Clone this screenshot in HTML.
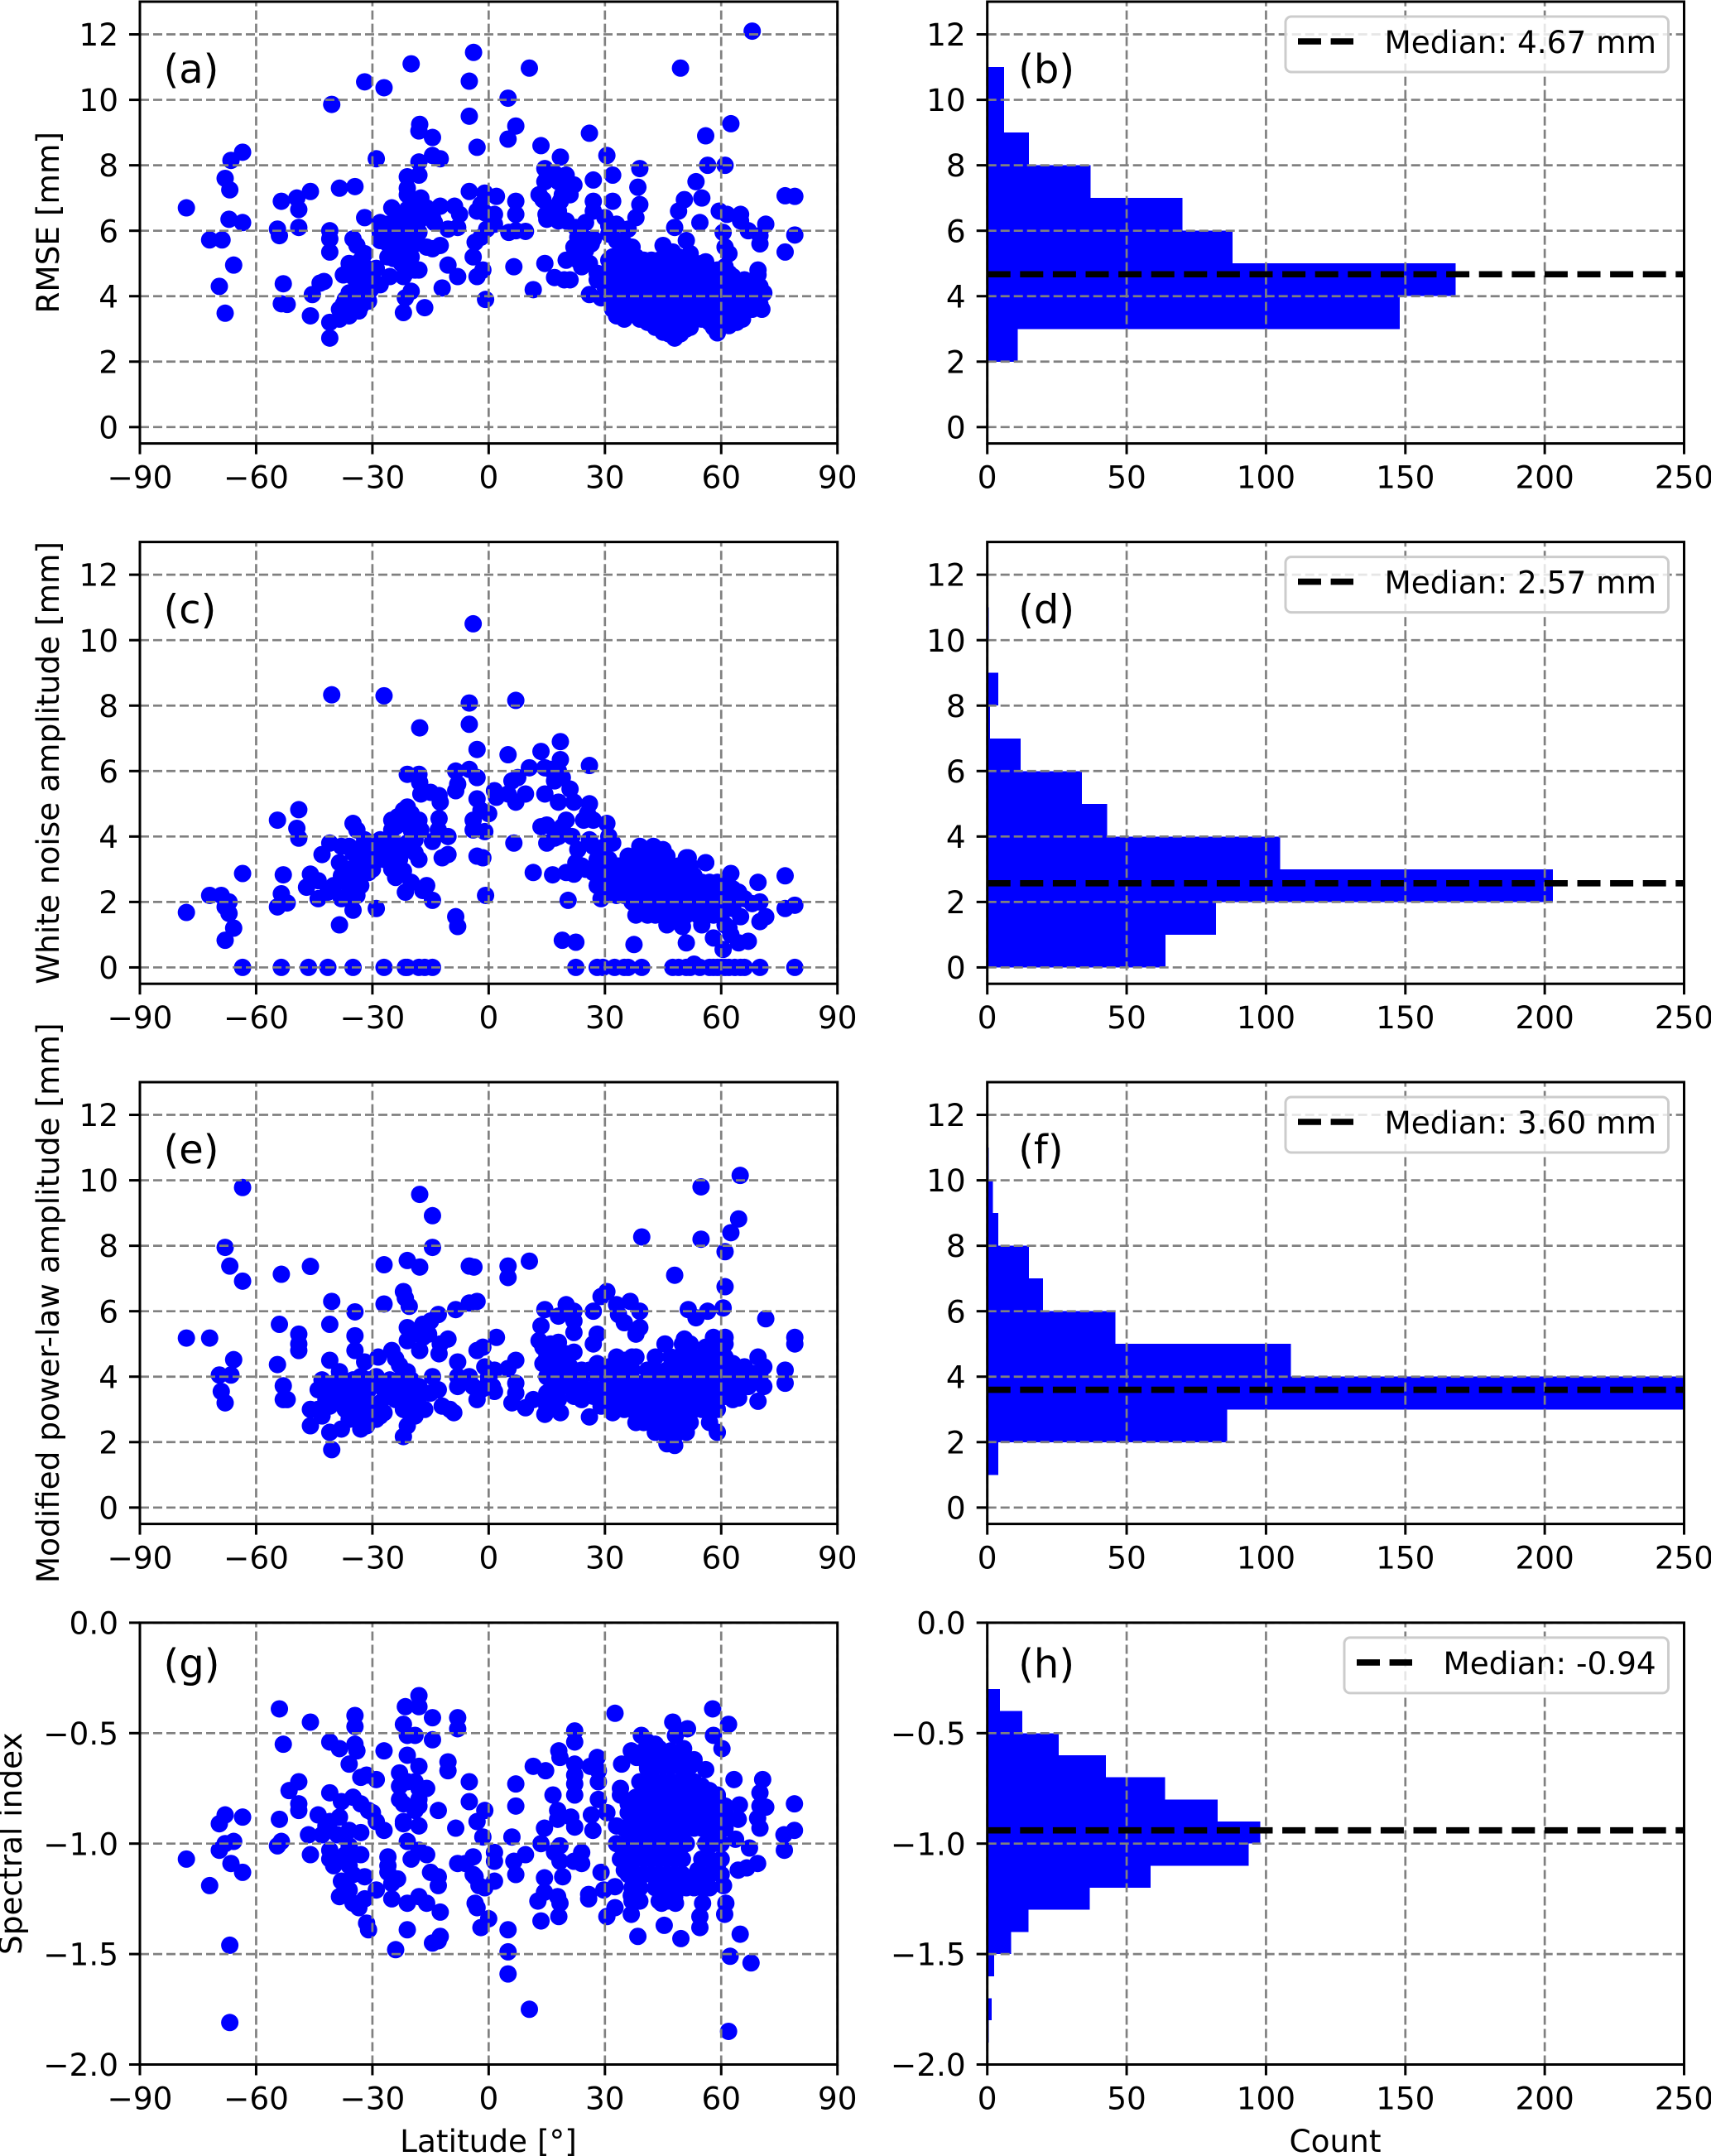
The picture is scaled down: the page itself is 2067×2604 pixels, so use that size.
<!DOCTYPE html>
<html>
<head>
<meta charset="utf-8">
<title>Latitude dependence of noise parameters</title>
<style>
html,body{margin:0;padding:0;background:#fff;}
svg{display:block;font-family:"DejaVu Sans","Liberation Sans",sans-serif;}
</style>
</head>
<body>
<svg id="figure" xmlns="http://www.w3.org/2000/svg" width="2067" height="2604" viewBox="0 0 2067 2604"></svg>
<script>
// ---- tick labels ----
const latTicks = [-90,-60,-30,0,30,60,90];
const countTicks = [0,50,100,150,200,250];
const amplitudeTicks = [0,2,4,6,8,10,12];
const indexTicks = [0,-0.5,-1,-1.5,-2];

// ---- panel (a) RMSE vs latitude ----
const latA = [
-78,-72,-68.8,-67,-63.5,-65.8,-69.5,-68,-66.5,-68,-66.8,-63.5,
-54.5,-54,-53,-53.5,-52,-53.5,-49,-49.5,-49,-46,-46,-45.5,-43.5,-42.5,
-41,-41,-41,-41,-41,-40.5,-38.5,-38.5,-34.5,-38.5,-37.5,-37,-36,-35,-35,
-34,-34,-34,-33,-33,-33,-32,-32,-32,-31,-31,-31.5,-36,-35,-29,-28,-37.5,-33,-30.5,-35.5,-33.5,
-32,-27,-29,-20,-3.9,-5,-5,-17.8,-18,-14.5,-14.5,-12.5,-18,-18,-21,-21,-21,
-17.5,-16,-14.5,-12.5,-14,-10.5,-8.8,-8,-7.5,-25,-21,-19.5,
-28,-26,-28,-25.5,-28,-24,-23,-21.5,-20,-20,-22,-19,-18,-16,-14.5,-12.5,-21,-20,-26,-24.5,-22.5,-21,-19,-18,-25.5,-22,-21.5,-20,-22,-16.5,-12,-10.5,-8,
-24,-23,-25,-22,-20,-24.5,-21.5,
-3,-2,-1,1.5,1.5,-0.5,-3.5,-2,-4,-1.5,-3,-0.8,5.2,7,9.5,7,6.5,11.5,-5,-1,2,7,-3,5,10.5,7,5,
14.5,13,14,14.5,15,16,17,18,20,21,22,21,19,14.8,15,17,18,18,20,16,18.5,17,19.5,21,20,22,22,23,22.5,24,25,27,27,26,29,27,25,26,28,28,26.5,23,24,13.5,14.5,18.5,
26,30.5,27,32,39,38.5,39,38,32,30,31,33,36,31,33,35,37,38,
32,34,36,38,40,42,44,46,49,52,
33,37,41,45,47,50,55,
31,33,35,37,39,41,43,45,47,49,51,53,55,57,59,61,63,
33,37,41,45,49,53,57,61,
30,32,34,36,38,40,42,44,46,48,50,52,54,56,58,60,62,64,66,
33,37,41,45,49,53,57,61,65,
31,33,35,37,39,41,43,45,47,49,51,53,55,57,59,61,63,65,67,69,
35,39,43,47,51,55,59,63,
32,34,36,38,40,42,44,46,48,50,52,54,56,58,60,62,64,66,
35,43,47,51,55,
33,37,39,41,43,45,47,49,51,53,55,57,59,61,63,
43,44.5,46,47,48,49,50,51,52,58,
45,46.5,48,49.5,
45,47.5,51,52,56,48,49,54.5,60.5,59.5,61.5,61,62,65,67,65,71.5,70,70,76.5,69.5,69.5,79,
71,70,70.5,68,66,64,62,61,65.5,59,57,60,63,65,
68,49.5,62.5,56,53.5,56.5,61,76.5,79,55,50.5,
62,64,66,68,63,65,67,69,62,64,
66,68,70,67,31,30,33,35,29,31,
-36,-34,-31,-30,-28,-26,-24,-22,-20,-18];
const rmse = [
6.7,5.72,5.72,6.35,6.25,4.95,4.3,3.48,8.15,7.6,7.25,8.4,
6.05,5.85,4.38,3.77,3.75,6.9,6.1,7.0,6.65,7.2,3.4,4.05,4.4,4.45,
6.0,5.75,5.35,3.2,2.72,9.86,3.3,3.6,7.35,7.3,4.65,3.9,4.1,4.6,5.75,
5.55,5.0,3.9,4.6,4.2,3.7,5.3,4.9,6.4,4.5,3.85,4.0,3.4,3.6,4.85,4.35,3.75,5.1,4.2,3.95,3.55,
10.55,10.37,8.2,11.1,11.45,10.57,9.5,9.25,9.05,8.85,8.3,8.2,8.1,7.7,7.65,7.3,7.1,
7.0,6.7,6.4,6.75,6.25,6.05,6.75,6.1,6.5,6.7,6.65,6.9,
6.25,6.2,5.95,5.95,5.8,5.9,5.7,6.2,6.2,5.9,5.8,5.6,5.95,5.5,5.45,5.55,5.4,5.2,5.2,5.15,5.0,4.85,4.8,4.8,4.6,4.6,3.95,4.15,3.5,3.65,4.25,4.95,4.6,
6.1,6.4,5.6,5.3,5.6,5.5,4.7,
6.6,6.8,6.55,6.5,6.2,6.05,5.65,5.8,5.2,4.8,4.6,3.9,5.95,6.0,5.98,6.5,4.9,4.2,7.2,7.15,7.05,6.9,8.55,10.05,10.97,9.2,8.8,
5.0,7.1,6.95,7.5,7.6,7.7,7.75,7.5,7.7,7.4,7.4,7.1,7.1,6.5,6.35,6.7,6.6,6.3,6.3,6.45,6.9,4.57,4.5,4.5,5.1,5.2,5.5,5.8,6.1,5.85,6.25,6.6,6.9,4.05,3.95,5.75,5.4,5.0,4.7,4.5,5.6,5.1,4.9,8.6,7.9,8.25,
8.98,8.3,7.55,7.7,7.9,7.33,6.8,6.4,6.9,6.4,6.15,6.2,6.05,5.9,5.7,5.6,5.5,5.2,
5.2,5.2,5.15,5.2,5.1,5.1,5.1,5.15,5.2,5.2,
5.0,5.0,5.0,5.0,5.0,5.0,5.0,
4.8,4.8,4.8,4.8,4.8,4.8,4.8,4.8,4.8,4.8,4.8,4.8,4.8,4.8,4.8,4.8,4.6,
4.6,4.6,4.6,4.6,4.6,4.6,4.6,4.6,
4.4,4.4,4.4,4.4,4.4,4.4,4.4,4.4,4.4,4.4,4.4,4.4,4.4,4.4,4.4,4.4,4.4,4.4,4.3,
4.2,4.2,4.2,4.2,4.2,4.2,4.2,4.2,4.2,
4.0,4.0,4.0,4.0,4.0,4.0,4.0,4.0,4.0,4.0,4.0,4.0,4.0,4.0,4.0,4.0,4.0,4.0,4.1,4.1,
3.8,3.8,3.8,3.8,3.8,3.8,3.8,3.8,
3.6,3.6,3.6,3.6,3.6,3.6,3.6,3.6,3.6,3.6,3.6,3.6,3.6,3.6,3.6,3.6,3.6,3.6,
3.45,3.45,3.45,3.45,3.45,
3.4,3.45,3.3,3.2,3.3,3.15,3.25,3.3,3.3,3.3,3.3,3.3,3.2,3.3,3.4,
3.05,3.0,2.95,3.0,2.85,2.95,3.0,3.0,3.05,3.05,
2.9,2.85,2.72,2.85,
5.55,5.35,5.7,5.3,5.05,6.1,6.6,6.25,5.95,6.6,6.5,5.5,5.3,6.5,6.0,6.3,6.2,5.85,5.6,5.35,4.8,4.65,5.87,
4.1,3.75,3.6,4.2,4.1,4.4,4.7,4.9,3.3,2.88,3.2,3.3,3.5,3.9,
12.1,10.97,9.27,8.9,7.5,8.0,8.0,7.07,7.05,7.0,6.95,
4.4,4.3,4.5,4.1,3.9,3.6,3.7,3.8,3.1,3.2,
3.6,3.6,4.3,3.9,4.7,4.3,3.6,3.3,4.6,5.1,
5.0,4.4,4.2,4.7,5.7,5.6,6.3,6.5,6.6,6.3];

// ---- panel (b) RMSE histogram ----
const rmseBinEdges = [2,3,4,5,6,7,8,9,10,11];
const rmseCounts = [11,148,168,88,70,37,15,6,6];
const rmseMedian = 4.67;

// ---- panel (c) white noise vs latitude ----
const latC = [
-63.5,-53.5,-46.5,-41.5,-35,-27,-21.5,-21,-18,-16.5,-14.5,22.5,28,29.5,32.5,35,36,39.5,47.5,49,51,52,53,54.5,57,58,59,60,61,62,63.5,65,66,70,79,
-4,-40.5,-27,-5,7,-5,-17.8,18.5,-3,13.5,5,26,18.5,
-8.5,-5,-3,10.5,14.5,16,18,7.5,6,17,19,-8,-8.5,1.5,2,5,7,9.5,14.5,18,21,22,26,-3,-2,0,25.5,24.5,27,-4,-4,-1,20,19,13.5,15,18,6.5,15,17,21.5,30.5,31,32,
-3,-1.5,11.5,16.5,20,22,-0.8,20.5,19,22.5,37.5,
-49,-54.5,-49.5,-49,-41,-43,-46,-44,-47,-44,-53,-53.5,-54.5,-52,-78,-72,-69,-67,-68,-67,-65.8,-68,-63.5,
-41.5,-38.5,-37,-38,-35,-34,-32,-35,-33,-36,-33,-37,-30,-31,-35,-36,-34,-35,-29,-38.5,
-28,-26,-24.5,-27,-25,-24,-22,-21.5,-20,-17,-16,-14.5,-8.5,-8,
-25,-23.5,-21,-22,-25,-20,-18,-17.5,-21,-22,-20,-18,-19,-21,-18,-17.8,-17.5,-15,-12.8,-12.5,-12.8,-13,-10.5,-14.5,-12,-10.5,
23,22.5,24,26,27,28,25,27,28,29,30,31,30,32,33,34,35,
39,42.5,45,
36,38,40,42,44,46,51,
33,35,37,39,41,43,45,47,49,52,56,
32,34,36,38,40,42,44,46,48,50,52,
33,35,37,39,41,43,45,47,49,51,53,55,
36,38,40,42,44,46,48,50,52,54,56,58,60,
38,40,42,44,46,48,50,52,54,56,58,60,62,
41,43,45,47,49,51,54,56,58,60,
46,50,55,61,62,
62.5,69.5,76.5,64.5,66,68,70,65,71.5,70,76.5,79,58,62,60.5,64.5,67,51,62.5,56,51.5,58,61,63,
-40,-38,-36,-34,-32,-30,-38,-36,-33,-31,
-28,-26,-24,-22,-20,-19,-23,-25,29,31,
33,35,37,34,36,38,55,57,59,61,
63,53];
const whiteNoise = [
0,0,0,0,0,0,0,0,0,0,0,0,0,0,0,0,0,0,0,0,0,0,0.1,0,0,0,0,0,0,0,0,0,0,0,0,
10.5,8.33,8.3,8.08,8.16,7.43,7.32,6.9,6.66,6.6,6.5,6.17,6.35,
6.0,6.05,5.8,6.1,6.1,6.05,6.0,5.8,5.7,5.7,5.8,5.6,5.4,5.4,5.2,5.3,5.05,5.3,5.3,5.05,5.45,5.05,5.0,5.15,4.8,4.7,4.7,4.5,4.5,4.5,4.2,4.15,4.5,4.3,4.3,4.35,4.0,3.8,3.8,3.95,4.0,4.4,4.0,3.8,
3.4,3.35,2.9,2.83,2.9,2.85,2.2,2.05,0.83,0.77,0.7,
4.82,4.5,4.25,3.95,3.8,3.45,2.85,2.65,2.45,2.1,2.83,2.25,1.85,1.97,1.68,2.2,2.2,2.0,1.85,1.65,1.2,0.83,2.87,
2.3,3.2,2.6,2.1,4.4,4.2,3.9,3.5,3.3,3.0,2.9,2.8,3.0,3.5,2.5,2.2,2.2,1.75,1.8,1.3,
3.7,3.8,3.8,3.3,3.0,2.75,2.95,2.3,2.6,2.35,2.5,2.05,1.55,1.25,
4.5,4.6,4.9,4.4,4.2,4.2,4.5,4.2,3.8,3.6,3.6,3.3,3.5,5.9,5.9,5.65,5.3,5.35,5.25,5.05,4.55,4.2,4.0,3.85,3.35,3.45,
3.6,3.2,3.1,3.9,3.7,3.3,3.0,2.9,2.5,2.1,3.7,3.3,2.8,3.0,2.6,3.1,2.5,
3.7,3.7,3.6,
3.4,3.4,3.4,3.4,3.4,3.4,3.35,
3.1,3.1,3.1,3.1,3.1,3.1,3.1,3.1,3.1,3.1,3.2,
2.8,2.8,2.8,2.8,2.8,2.8,2.8,2.8,2.8,2.8,2.8,
2.5,2.5,2.5,2.5,2.5,2.5,2.5,2.5,2.5,2.5,2.5,2.5,
2.2,2.2,2.2,2.2,2.2,2.2,2.2,2.2,2.2,2.2,2.2,2.2,2.2,
1.9,1.9,1.9,1.9,1.9,1.9,1.9,1.9,1.9,1.9,1.9,1.9,1.9,
1.6,1.6,1.6,1.6,1.6,1.6,1.6,1.6,1.6,1.6,
1.3,1.25,1.3,1.3,1.2,
2.87,2.6,2.8,2.3,2.1,1.95,2.0,1.55,1.55,1.4,1.8,1.9,0.9,1.2,0.55,0.75,0.8,0.75,1.0,3.2,3.35,2.4,2.5,1.8,
2.5,2.8,2.6,3.6,3.5,3.3,3.7,3.7,2.5,2.9,
3.9,3.4,4.3,4.8,4.7,3.9,3.3,3.5,3.2,2.4,
2.2,2.2,2,2.9,2.3,1.6,2.6,2.6,2.6,2.2,
2.4,2.8];

// ---- panel (d) white noise histogram ----
const whiteBinEdges = [0,1,2,3,4,5,6,7,8,9,10,11];
const whiteCounts = [64,82,203,105,43,34,12,1,4,0,0.5];
const whiteMedian = 2.57;

// ---- panel (e) modified power-law vs latitude ----
const latE = [
-78,-72,-63.5,-68,-66.8,-63.5,-65.8,-69.5,-66.5,-69,-68,
-53.5,-46,-54,-49,-49,-49,-54.5,-53,-53,-52,-46,-46,
-40.5,-41,-41,-34.5,-34.5,-34.5,-32,-17.8,-14.5,-14.5,-21,-27,-17.8,-27,-22,-21.5,-20.5,
-13,-15,-17,-18,-21,-21,-17,-15.5,-10.5,-12.5,-12.8,-17.8,-8.5,-5,-3,-28.5,-25,-24,-23,-21,-8,-14.5,
-5,-3.8,5,5,10.5,
-44,-42,-41,-41,-44,-43,-41,-40.5,-38.5,-37.5,-38,-36,-37,-35,-34,-33,-33,-33,-33,-31,-30,-29,-29,-31.5,-35,-28,
-27,-25.5,-24,-23,-22,-21,-20,-19,-22,-20.5,-21,-22,-20,-18,-16.5,-15,-13,-12,-10,-9,-8,-8,-5,-4,-3,-2,-1,-3,-1.5,0,1,1.5,1.5,2,0,5,7,7,7,6,9.5,11.5,
13,13.5,14.5,14,15,16,18,18,20,22,22,22,22,14.5,18.5,15,17,18,15,17,19,20,21,23,22,24,26,26,27,27,28,29,30.5,
28,27,29,31,33,35,37,38,
33,33.5,35,36.5,38,39,39,39.5,48,
45.5,50,52,58,60,
43,47,49,51,53,55,57,59,61,
35,41,43,46,48,50,52,54,56,58,60,62,64,
34,36,38,40,42,44,46,48,50,52,54,56,58,60,62,
33,35,37,39,41,43,45,47,49,51,53,55,57,59,61,
33,35,37,39,41,43,45,47,49,51,53,55,57,59,
38,40,42,44,46,48,50,52,57,
43,45,47,49,51,59,
46,48,
64.9,54.8,64.5,62.5,54.8,61,61,60.5,51.5,53.5,56.5,50.5,71.5,79,79,76.5,76.5,69.5,71,70,68,71,69.5,66,64.5,65,63,61,61,
-43,-42,-40,-39,-37,-36,-35,-34,-32,-31,
-30,-28,-27,-26,-24,-23,-22,-20,-19,-18,
-17,-36,-32,-28,-25,-21,-19,
14,16,17,19,20,21,23,24,25,26,
28,29,30,31,32,15,19,24,30,33,
32,34,36,37,56,58,60,62,63,64,
66,67,31,30];
const powerLaw = [
5.18,5.18,9.78,7.95,7.38,6.92,4.52,4.05,4.05,3.55,3.2,
7.13,7.37,5.6,5.3,5.0,4.8,4.37,3.72,3.3,3.3,3.0,2.5,
6.3,5.6,4.5,5.98,5.25,4.8,4.45,9.57,8.92,7.95,7.55,7.42,7.35,6.22,6.6,6.4,6.15,
5.9,5.7,5.6,5.4,5.5,5.1,5.2,5.3,5.15,5.0,4.7,4.8,6.05,6.25,6.3,4.6,4.8,4.55,4.35,4.15,4.45,4.0,
7.38,7.35,7.38,7.03,7.53,
3.6,3.3,3.6,3.1,3.0,2.8,2.3,1.77,4.15,3.9,2.4,3.3,3.0,2.8,3.9,4.0,3.3,2.7,2.4,3.6,3.1,4.0,2.7,2.5,3.5,3.2,
3.6,3.9,3.7,3.9,3.4,3.8,3.5,3.7,3.0,2.9,2.5,2.17,3.3,3.4,3.0,3.5,3.6,3.1,3.0,2.9,3.7,4.0,4.0,3.7,3.3,3.6,4.3,4.8,4.9,4.0,3.7,4.2,3.55,5.2,3.9,4.25,4.5,3.8,3.5,3.2,3.05,3.3,
5.1,5.55,6.05,4.9,4.6,5.0,5.05,5.85,6.2,6.0,5.7,5.35,4.75,2.85,2.9,3.5,3.7,3.3,4.0,4.2,4.5,4.1,4.3,4.1,3.4,3.3,4.2,2.77,6.0,5.0,5.3,6.45,6.6,
3.8,3.4,3.1,4.3,4.6,4.5,4.6,4.6,
6.2,5.9,5.65,6.3,5.3,5.5,6.0,8.27,7.1,
5.0,5.0,5.0,5.0,5.1,
4.6,4.6,4.6,4.6,4.6,4.6,4.6,4.6,4.6,
4.2,4.2,4.2,4.2,4.2,4.2,4.2,4.2,4.2,4.2,4.2,4.2,4.2,
3.8,3.8,3.8,3.8,3.8,3.8,3.8,3.8,3.8,3.8,3.8,3.8,3.8,3.8,3.8,
3.4,3.4,3.4,3.4,3.4,3.4,3.4,3.4,3.4,3.4,3.4,3.4,3.4,3.4,3.4,
3.0,3.0,3.0,3.0,3.0,3.0,3.0,3.0,3.0,3.0,3.0,3.0,3.0,3.0,
2.6,2.6,2.6,2.6,2.6,2.6,2.6,2.6,2.6,
2.3,2.3,2.3,2.3,2.3,2.3,
1.95,1.9,
10.15,9.8,8.82,8.4,8.2,7.82,6.75,6.1,6.05,5.8,6.0,5.15,5.77,5.2,5.0,4.2,3.8,4.6,4.3,4.0,4.1,3.7,3.25,3.9,3.35,3.7,4.4,5.2,5.0,
3.9,3.5,3.8,3.3,3.5,2.7,3.9,3.2,3,3.9,
2.7,3.8,2.9,3.4,3.3,3.4,4,3.9,3.1,3.7,
3.5,3.7,3.3,2.8,3.4,3.3,2.8,
4.4,3.9,4.7,3.7,4.7,3.7,3.7,4,3.6,3.5,
4.4,3.9,3.6,3.2,3.6,3.1,4.1,4.2,4.2,4.2,
2.9,4.5,4.3,4.2,4.9,5.2,4.4,3.8,3.3,4.2,
4.3,3.7,4,3.5];

// ---- panel (f) modified power-law histogram ----
const powerBinEdges = [1,2,3,4,5,6,7,8,9,10,11];
const powerCounts = [4,86,262,109,46,20,15,4,2,0.5];
const powerMedian = 3.60;

// ---- panel (g) spectral index vs latitude ----
const latG = [
-78,-72,-66.8,-66.8,-68,-69.5,-63.5,-68,-65.8,-69.5,-66.5,-63.5,
-54,-46,-53,-49,-51.5,-49,-49,-54,-53.5,-54.5,-46,-46.5,
-41,-41,-38.5,-36,-34.5,-34.5,-34.5,-34,-33,-31.5,-29,-27,
-44,-42,-41,-38.5,-38,-35,-33,-31,-30,-29,-27,-43,-39,-36,-33,
-41,-41,-40,-37,-36,-33,-36,-35,-32,-38,-37,-36,-38.5,-35,-33.5,-32,-31.5,-31,
-26,-26,-26,-29,-25,-23.5,-25,-21,-24,-21,
-22,-21.5,-18,-18,-21,-19,-14.5,-14.5,-21,-18,-23,-23,-21,-19,-18,-16,-23,-22,-18,-18,-19,-22,-22,-18,-21,-18,-16,-20,
-15,-13,-13,-18,-16,-12.5,-14.5,-12.5,-13,
-13,-10.5,-10.5,-8,-8,-5,-5,-8.5,-8,-6,-4,-4,-3,-1,-1.5,
-3.5,-2.5,-1,1.5,1.5,1.5,-3.5,-3,-2,0,
5,5,5,10.5,6,7,7,6.5,7,9.5,
11.5,14.7,13.5,14.4,12.7,14.4,14.4,13.5,
16.6,17.8,18.1,18.4,17.8,21.2,18.4,17,18.4,19.1,17.8,18.4,18.1,
22.2,22.2,22.2,22.2,22.2,22.2,22.2,22,24,24,
26.2,28,28.3,28.3,28.3,30.5,26.5,26.9,25.8,25.8,29,30.5,29.7,32.6,32.6,36.8,38.5,34.3,34,36.8,32.6,
39.4,41,36.8,38.2,47.5,48.2,51.3,50.3,49.6,53,56,57.8,58,60.2,61.9,
41,43,45,47,49.5,52,
39,41,43,45,47,49,51,53,
38,40,42,44,46,48,50,52,54,57,59,
36,38,40,42,44,46,48,50,52,54,56,58,60,
35,37,39,41,43,45,47,49,51,53,55,57,59,61,
33,35,37,39,41,43,45,47,49,51,56,58,60,
34,36,38,40,42,44,46,48,50,55,57,60,
36,38,40,42,44,46,48,50,57,60,
37,39,43,45,47,49,51,53,55,
55.2,54.5,54.5,44.6,48.2,45.3,49.6,60.6,61.2,60.9,64.9,62.3,67.7,61.9,
63.3,64.7,70.7,70,70,71.5,69.4,70,78.9,78.9,76.2,76.3,63.7,67.3,69.4,66.6,64.4,61.6,64.4,
40,42,44,46,48,50,43,45,47,51,
41,53,55,57,59,61,56,58,34,33,
35,37,39,36,55,57,59,52,54,46,
44,48];
const spectralIndex = [
-1.07,-1.19,-1.81,-1.46,-0.87,-0.91,-0.88,-1,-0.99,-1.03,-1.09,-1.13,
-0.39,-0.45,-0.55,-0.72,-0.76,-0.82,-0.85,-0.89,-0.99,-1.01,-1.05,-0.96,
-0.77,-0.54,-0.57,-0.64,-0.42,-0.47,-0.55,-0.58,-0.7,-0.69,-0.71,-0.58,
-0.87,-0.92,-0.9,-0.88,-0.81,-0.79,-0.82,-0.85,-0.86,-0.9,-0.94,-0.96,-0.96,-0.94,-0.95,
-1.03,-1.07,-1.1,-1.05,-1.01,-1.05,-1.1,-1.14,-1.15,-1.17,-1.21,-1.21,-1.24,-1.27,-1.29,-1.25,-1.36,-1.39,
-1.06,-1.1,-1.13,-1.21,-1.18,-1.16,-1.25,-1.27,-1.48,-1.39,
-0.46,-0.38,-0.33,-0.38,-0.51,-0.51,-0.43,-0.53,-0.6,-0.65,-0.68,-0.74,-0.72,-0.72,-0.75,-0.75,-0.8,-0.82,-0.8,-0.83,-0.85,-0.9,-0.91,-0.92,-0.99,-1.03,-1.05,-1.07,
-1.13,-1.15,-1.19,-1.24,-1.27,-1.31,-1.45,-1.42,-1.44,
-0.85,-0.63,-0.67,-0.43,-0.48,-0.72,-0.81,-0.93,-1.09,-1.09,-1.06,-1.14,-0.9,-0.85,-0.97,
-1.15,-1.19,-1.2,-1.17,-1.04,-1.08,-1.27,-1.29,-1.38,-1.34,
-1.39,-1.49,-1.59,-1.75,-0.97,-0.73,-0.83,-1.08,-1.14,-1.05,
-0.65,-0.67,-1,-0.93,-1.26,-1.22,-1.155,-1.35,
-0.78,-0.85,-0.58,-0.61,-0.89,-0.88,-1.01,-1.04,-1.08,-1.15,-1.24,-1.27,-1.33,
-0.49,-0.54,-0.64,-0.69,-0.73,-0.78,-0.925,-1.08,-1.09,-1.04,
-0.65,-0.61,-0.67,-0.72,-0.8,-0.86,-0.87,-0.94,-1.23,-1.25,-1.13,-1.33,-1.21,-0.41,-1.29,-1.32,-1.42,-0.64,-0.75,-1.235,-1.195,
-0.51,-0.54,-0.58,-0.61,-0.45,-0.51,-0.48,-0.57,-0.6,-0.62,-0.665,-0.39,-0.51,-0.57,-0.46,
-0.65,-0.65,-0.65,-0.65,-0.65,-0.65,
-0.72,-0.72,-0.72,-0.72,-0.72,-0.72,-0.72,-0.72,
-0.79,-0.79,-0.79,-0.79,-0.79,-0.79,-0.79,-0.79,-0.79,-0.79,-0.79,
-0.86,-0.86,-0.86,-0.86,-0.86,-0.86,-0.86,-0.86,-0.86,-0.86,-0.86,-0.86,-0.86,
-0.93,-0.93,-0.93,-0.93,-0.93,-0.93,-0.93,-0.93,-0.93,-0.93,-0.93,-0.93,-0.93,-0.93,
-1,-1,-1,-1,-1,-1,-1,-1,-1,-1,-1,-1,-1,
-1.07,-1.07,-1.07,-1.07,-1.07,-1.07,-1.07,-1.07,-1.07,-1.07,-1.07,-1.07,
-1.14,-1.14,-1.14,-1.14,-1.14,-1.14,-1.14,-1.14,-1.14,-1.14,
-1.2,-1.2,-1.2,-1.2,-1.2,-1.2,-1.2,-1.2,-1.2,
-1.27,-1.33,-1.38,-1.27,-1.27,-1.37,-1.43,-1.19,-1.27,-1.32,-1.41,-1.51,-1.54,-1.85,
-0.71,-0.825,-0.71,-0.77,-0.83,-0.835,-0.885,-0.93,-0.82,-0.94,-0.96,-1.03,-0.98,-1.02,-1.09,-1.11,-1.12,-0.88,-0.89,
-0.58,-0.6,-0.57,-0.62,-0.6,-0.62,-0.55,-0.6,-0.58,-0.66,
-0.66,-0.75,-0.74,-0.76,-0.78,-0.83,-0.83,-0.86,-0.78,-0.92,
-1.12,-1.26,-1.26,-0.82,-1.15,-1.2,-1.1,-1.16,-1.12,-1.26,
-1.26,-1.24];

// ---- panel (h) spectral index histogram ----
const indexBinEdges = [-0.3,-0.4,-0.5,-0.6,-0.7,-0.8,-0.9,-1.0,-1.1,-1.2,-1.3,-1.4,-1.5,-1.6,-1.7,-1.8,-1.9];
const indexCounts = [4.5,12.6,25.7,42.6,63.8,82.7,97.9,93.8,58.6,36.8,14.8,8.6,2.5,0,1.6,0.5];
const indexMedian = -0.94;

// ---- drawing helpers ----
const SVG_NS = 'http://www.w3.org/2000/svg';
const figure = document.getElementById('figure');
const FONT_TICK = 37.4;
const FONT_PANEL = 48;

function mk(parent, tag, attrs, text) {
  const node = document.createElementNS(SVG_NS, tag);
  for (const key in attrs) node.setAttribute(key, attrs[key]);
  if (text !== undefined) node.textContent = text;
  parent.appendChild(node);
  return node;
}
function linear(d0, d1, r0, r1) {
  return v => r0 + (v - d0) * (r1 - r0) / (d1 - d0);
}
function tickText(v, decimals) {
  const s = decimals ? Math.abs(v).toFixed(decimals) : String(Math.abs(v));
  return (v < 0 ? '\u2212' : '') + s;
}

function drawAxesFrame(group, box, sx, sy, xTicks, yTicks, yDecimals, name) {
  const gridGroup = mk(group, 'g', {stroke:'#808080','stroke-width':2.7,'stroke-dasharray':'11 5',fill:'none'});
  
  
  xTicks.forEach(t => {
    const line = mk(gridGroup, 'line', {x1:sx(t),x2:sx(t),y1:box.bottom,y2:box.top});
    
    
  });
  yTicks.forEach(t => {
    const line = mk(gridGroup, 'line', {x1:box.left,x2:box.right,y1:sy(t),y2:sy(t)});
    
    
  });
}

function drawAxesTicks(group, box, sx, sy, xTicks, yTicks, yDecimals, name) {
  const frame = mk(group, 'rect', {x:box.left,y:box.top,width:box.right-box.left,height:box.bottom-box.top,fill:'none',stroke:'#000','stroke-width':3});
  
  
  xTicks.forEach(t => {
    const tick = mk(group, 'line', {x1:sx(t),x2:sx(t),y1:box.bottom,y2:box.bottom+13,stroke:'#000','stroke-width':3});
    
    
    const label = mk(group, 'text', {x:sx(t),y:box.bottom+54,'text-anchor':'middle','font-size':FONT_TICK,fill:'#000'}, tickText(t, 0));
    
    
  });
  yTicks.forEach(t => {
    const tick = mk(group, 'line', {x1:box.left-13,x2:box.left,y1:sy(t),y2:sy(t),stroke:'#000','stroke-width':3});
    
    
    const label = mk(group, 'text', {x:box.left-26,y:sy(t)+13.6,'text-anchor':'end','font-size':FONT_TICK,fill:'#000'}, tickText(t, yDecimals));
    
    
  });
}

function drawPanelLetter(group, box, text, dx, dy) {
  const letter = mk(group, 'text', {x:box.left+dx,y:box.top+dy,'font-size':FONT_PANEL,fill:'#000'}, text);
  
  
}

function drawScatterPanel(name, box, lats, values, yMin, yMax, yTicks, yDecimals, yTitle, yTitleX, letter, letterDy) {
  const group = mk(figure, 'g', {});
  
  
  const sx = linear(-90, 90, box.left, box.right);
  const sy = linear(yMin, yMax, box.bottom, box.top);
  const pointGroup = mk(group, 'g', {fill:'#0000ff'});
  
  
  const n = Math.min(lats.length, values.length);
  for (let i = 0; i < n; i++) {
    const dot = mk(pointGroup, 'circle', {cx:sx(lats[i]),cy:sy(values[i]),r:10.5});
    
    
  }
  drawAxesFrame(group, box, sx, sy, latTicks, yTicks, yDecimals, name);
  drawAxesTicks(group, box, sx, sy, latTicks, yTicks, yDecimals, name);
  const cy = (box.top + box.bottom) / 2;
  const title = mk(group, 'text', {x:yTitleX,y:cy,'text-anchor':'middle','font-size':FONT_TICK,fill:'#000',transform:'rotate(-90 '+yTitleX+' '+cy+')'}, yTitle);
  
  
  drawPanelLetter(group, box, letter, 28.5, letterDy);
}

function drawHistPanel(name, box, edges, counts, median, yMin, yMax, yTicks, yDecimals, legendText, legendLeft, letter, letterDy) {
  const group = mk(figure, 'g', {});
  
  
  const sx = linear(0, 250, box.left, box.right);
  const sy = linear(yMin, yMax, box.bottom, box.top);
  const clipId = name + '-clip';
  const defs = mk(group, 'defs', {});
  const clip = mk(defs, 'clipPath', {id:clipId});
  mk(clip, 'rect', {x:box.left,y:box.top,width:box.right-box.left,height:box.bottom-box.top});
  const barGroup = mk(group, 'g', {fill:'#0000ff','clip-path':'url(#'+clipId+')','shape-rendering':'crispEdges'});
  
  
  counts.forEach((c, i) => {
    const y0 = sy(edges[i]), y1 = sy(edges[i+1]);
    const bar = mk(barGroup, 'rect', {x:sx(0),y:Math.min(y0,y1),width:sx(c)-sx(0),height:Math.abs(y1-y0)});
    
    
  });
  drawAxesFrame(group, box, sx, sy, countTicks, yTicks, yDecimals, name);
  const medianLine = mk(group, 'line', {x1:box.left,x2:box.right,y1:sy(median),y2:sy(median),stroke:'#000','stroke-width':7.6,'stroke-dasharray':'28 11.6'});
  
  
  drawAxesTicks(group, box, sx, sy, countTicks, yTicks, yDecimals, name);
  const legendRight = box.right - 19;
  const legendBox = mk(group, 'rect', {x:legendLeft,y:box.top+18,width:legendRight-legendLeft,height:67,rx:7,ry:7,fill:'#fff','fill-opacity':0.8,stroke:'#cccccc','stroke-width':3});
  
  
  const handleY = box.top + 48;
  const handle = mk(group, 'line', {x1:legendLeft+15,x2:legendLeft+82,y1:handleY,y2:handleY,stroke:'#000','stroke-width':7.6,'stroke-dasharray':'28 11.6'});
  
  
  const legendLabel = mk(group, 'text', {x:legendLeft+119.5,y:box.top+62,'font-size':FONT_TICK,fill:'#000'}, legendText);
  
  
  drawPanelLetter(group, box, letter, 37.5, letterDy);
}

const HEIGHT = 533.6;
const LEFT_COL = {left:169, right:1011.7};
const RIGHT_COL = {left:1192.7, right:2034.5};
const ROW_TOPS = [2, 654.6, 1307, 1959.9];
function boxFor(col, row) {
  return {left:col.left,right:col.right,top:ROW_TOPS[row],bottom:ROW_TOPS[row]+HEIGHT};
}

drawScatterPanel('panel-a-rmse-scatter', boxFor(LEFT_COL,0), latA, rmse, -0.5, 13, amplitudeTicks, 0, 'RMSE [mm]', 71, '(a)', 98);
drawHistPanel('panel-b-rmse-histogram', boxFor(RIGHT_COL,0), rmseBinEdges, rmseCounts, rmseMedian, -0.5, 13, amplitudeTicks, 0, 'Median: 4.67 mm', 1553, '(b)', 98);
drawScatterPanel('panel-c-white-noise-scatter', boxFor(LEFT_COL,1), latC, whiteNoise, -0.5, 13, amplitudeTicks, 0, 'White noise amplitude [mm]', 71, '(c)', 98);
drawHistPanel('panel-d-white-noise-histogram', boxFor(RIGHT_COL,1), whiteBinEdges, whiteCounts, whiteMedian, -0.5, 13, amplitudeTicks, 0, 'Median: 2.57 mm', 1553, '(d)', 98);
drawScatterPanel('panel-e-power-law-scatter', boxFor(LEFT_COL,2), latE, powerLaw, -0.5, 13, amplitudeTicks, 0, 'Modified power-law amplitude [mm]', 71, '(e)', 98);
drawHistPanel('panel-f-power-law-histogram', boxFor(RIGHT_COL,2), powerBinEdges, powerCounts, powerMedian, -0.5, 13, amplitudeTicks, 0, 'Median: 3.60 mm', 1553, '(f)', 98);
drawScatterPanel('panel-g-spectral-index-scatter', boxFor(LEFT_COL,3), latG, spectralIndex, -2, 0, indexTicks, 1, 'Spectral index', 26, '(g)', 66);
drawHistPanel('panel-h-spectral-index-histogram', boxFor(RIGHT_COL,3), indexBinEdges, indexCounts, indexMedian, -2, 0, indexTicks, 1, 'Median: -0.94', 1624, '(h)', 66);

const xTitleLeft = mk(figure, 'text', {x:590,y:2599,'text-anchor':'middle','font-size':FONT_TICK,fill:'#000'}, 'Latitude [\u00b0]');


const xTitleRight = mk(figure, 'text', {x:1613,y:2599,'text-anchor':'middle','font-size':FONT_TICK,fill:'#000'}, 'Count');


</script>
</body>
</html>
